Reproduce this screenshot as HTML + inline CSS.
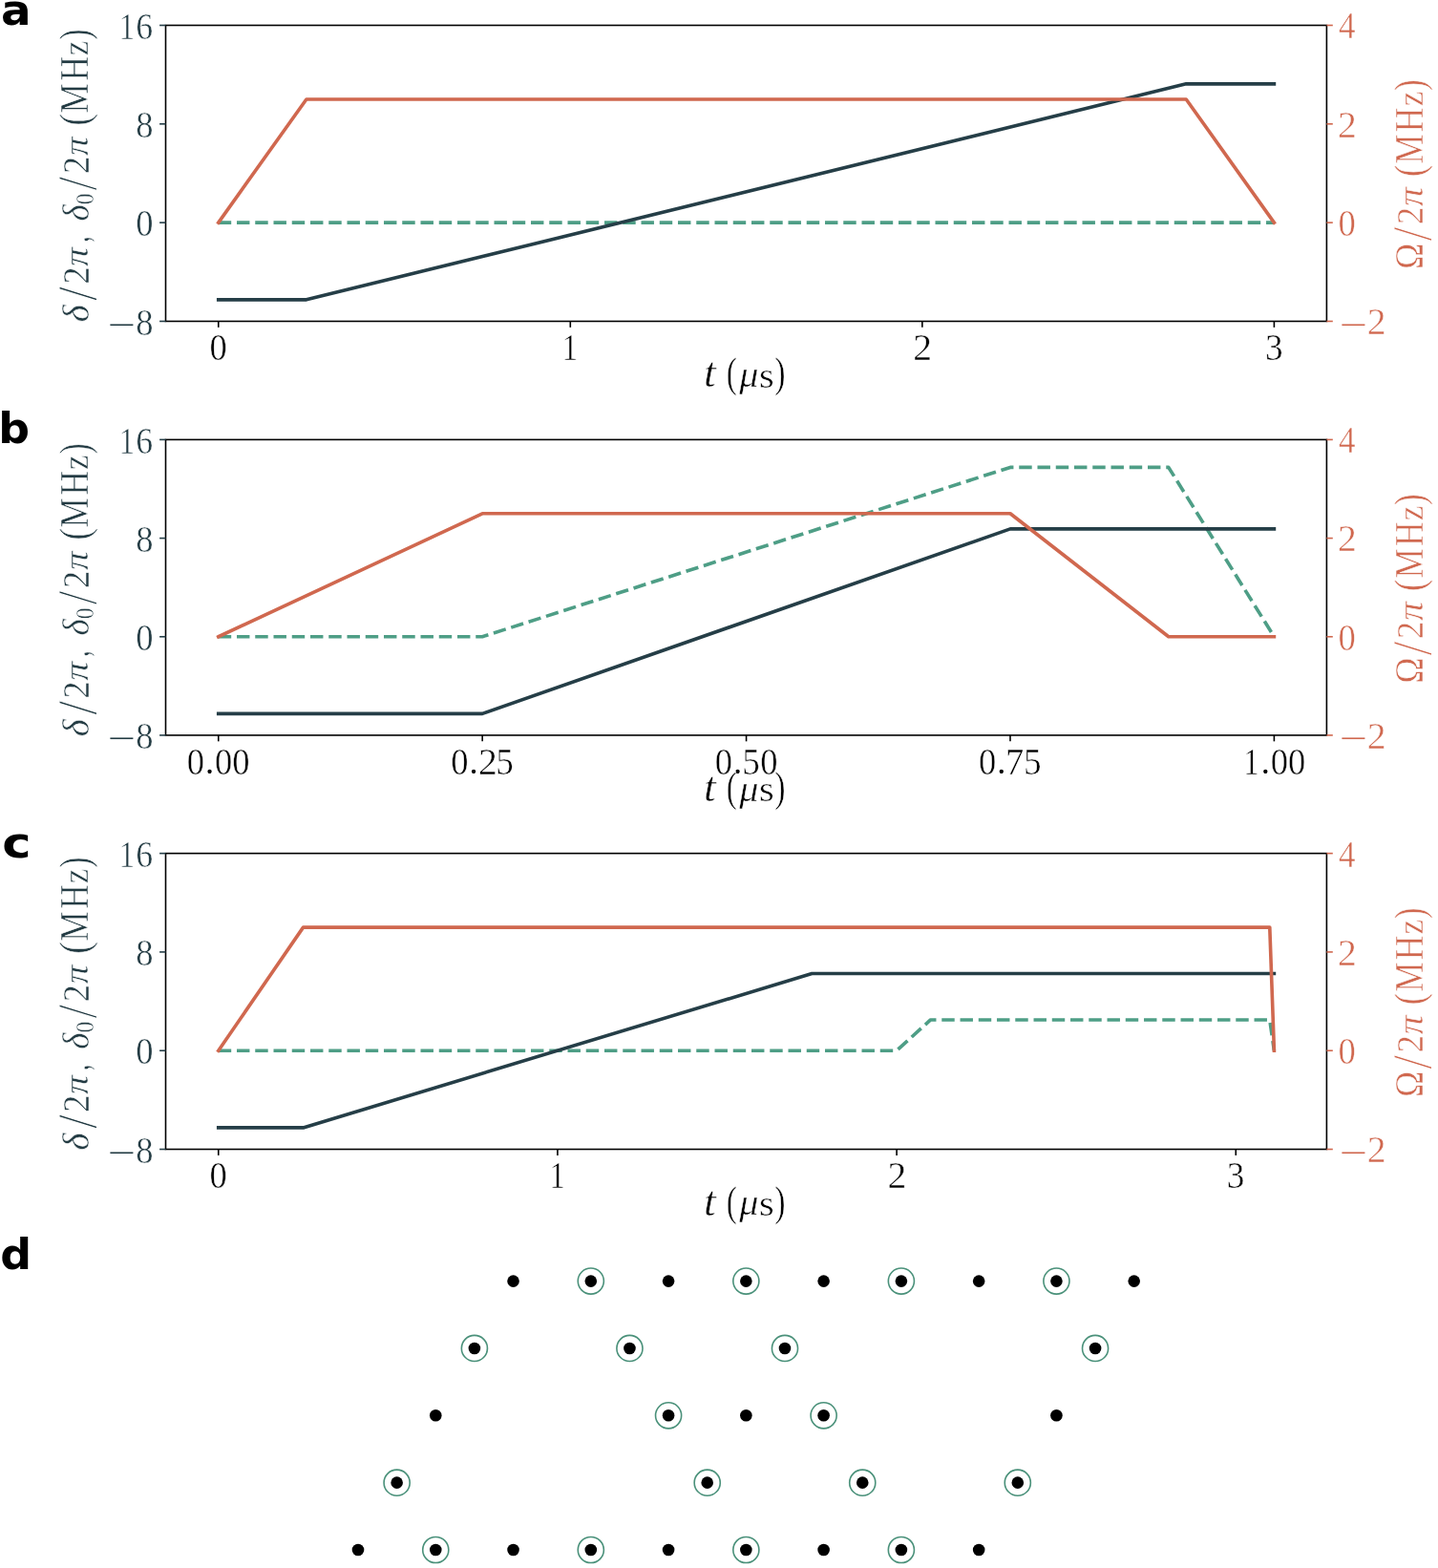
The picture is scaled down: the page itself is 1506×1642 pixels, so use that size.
<!DOCTYPE html>
<html><head><meta charset="utf-8"><title>Figure</title>
<style>html,body{margin:0;padding:0;background:#fff;overflow:hidden;}svg{display:block;}text{font-size:40px;}.r{font-family:"Liberation Serif",serif;}.i{font-family:"Liberation Serif",serif;font-style:italic;}.b{font-family:"DejaVu Sans",sans-serif;font-weight:bold;}</style>
</head><body>
<svg width="1506" height="1642" viewBox="0 0 1506 1642">
<rect x="0" y="0" width="1506" height="1642" fill="#fff"/>
<text class="b" transform="translate(0.988 26.276) scale(1.17 1.101)" fill="#000">a</text>
<text class="b" transform="translate(-1.849 464.174) scale(1.146 1.105)" fill="#000">b</text>
<text class="b" transform="translate(2.202 898.261) scale(1.279 1.128)" fill="#000">c</text>
<text class="b" transform="translate(0.341 1329.182) scale(1.146 1.092)" fill="#000">d</text>
<g>
<polyline points="228.75,233.133 1334.4,233.133" fill="none" stroke="#4e9e86" stroke-width="3.63" stroke-linejoin="round" stroke-linecap="butt" stroke-dasharray="13.44 5.81"/>
<polyline points="228.75,313.849 320.887,313.849 1242.263,87.844 1334.4,87.844" fill="none" stroke="#253e47" stroke-width="3.63" stroke-linejoin="round" stroke-linecap="square"/>
<polyline points="228.75,233.133 320.887,103.987 1242.263,103.987 1334.4,233.133" fill="none" stroke="#d0684f" stroke-width="3.63" stroke-linejoin="round" stroke-linecap="square"/>
<rect x="173.5" y="26.5" width="1215.9" height="309.95" fill="none" stroke="#000" stroke-width="1.6"/>
<line x1="167.1" y1="26.5" x2="173.5" y2="26.5" stroke="#253e47" stroke-width="1.6"/>
<text class="r" transform="translate(124.729 40.65) scale(0.817 1.005)" fill="#233b43" stroke="#fff" stroke-width="0.549">1</text><text class="r" transform="translate(142.311 40.65) scale(0.895 1.005)" fill="#233b43" stroke="#fff" stroke-width="0.526">6</text>
<line x1="167.1" y1="129.817" x2="173.5" y2="129.817" stroke="#253e47" stroke-width="1.6"/>
<text class="r" transform="translate(142.357 143.967) scale(0.914 1.005)" fill="#233b43" stroke="#fff" stroke-width="0.521">8</text>
<line x1="167.1" y1="233.133" x2="173.5" y2="233.133" stroke="#253e47" stroke-width="1.6"/>
<text class="r" transform="translate(142.357 247.283) scale(0.914 1.005)" fill="#233b43" stroke="#fff" stroke-width="0.521">0</text>
<line x1="167.1" y1="336.45" x2="173.5" y2="336.45" stroke="#253e47" stroke-width="1.6"/>
<text class="r" transform="translate(112.381 350.717) scale(1.289 0.803)" fill="#233b43">−</text><text class="r" transform="translate(142.357 350.6) scale(0.914 1.005)" fill="#233b43" stroke="#fff" stroke-width="0.521">8</text>
<line x1="1389.4" y1="26.5" x2="1395.8" y2="26.5" stroke="#d0684f" stroke-width="1.6"/>
<text class="r" transform="translate(1401.915 40.4) scale(0.877 1.005)" fill="#d0684f" stroke="#fff" stroke-width="0.532">4</text>
<line x1="1389.4" y1="129.817" x2="1395.8" y2="129.817" stroke="#d0684f" stroke-width="1.6"/>
<text class="r" transform="translate(1401.057 143.717) scale(0.992 1.005)" fill="#d0684f" stroke="#fff" stroke-width="0.501">2</text>
<line x1="1389.4" y1="233.133" x2="1395.8" y2="233.133" stroke="#d0684f" stroke-width="1.6"/>
<text class="r" transform="translate(1401.607 247.033) scale(0.914 1.005)" fill="#d0684f" stroke="#fff" stroke-width="0.521">0</text>
<line x1="1389.4" y1="336.45" x2="1395.8" y2="336.45" stroke="#d0684f" stroke-width="1.6"/>
<text class="r" transform="translate(1402.431 350.717) scale(1.289 0.803)" fill="#d0684f">−</text><text class="r" transform="translate(1431.857 350.35) scale(0.992 1.005)" fill="#d0684f" stroke="#fff" stroke-width="0.501">2</text>
<line x1="228.75" y1="336.45" x2="228.75" y2="342.85" stroke="#000" stroke-width="1.6"/>
<text class="r" transform="translate(219.607 377.35) scale(0.914 1.005)" fill="#000" stroke="#fff" stroke-width="0.521">0</text>
<line x1="597.3" y1="336.45" x2="597.3" y2="342.85" stroke="#000" stroke-width="1.6"/>
<text class="r" transform="translate(588.829 377.35) scale(0.817 1.005)" fill="#000" stroke="#fff" stroke-width="0.549">1</text>
<line x1="965.85" y1="336.45" x2="965.85" y2="342.85" stroke="#000" stroke-width="1.6"/>
<text class="r" transform="translate(956.157 377.35) scale(0.992 1.005)" fill="#000" stroke="#fff" stroke-width="0.501">2</text>
<line x1="1334.4" y1="336.45" x2="1334.4" y2="342.85" stroke="#000" stroke-width="1.6"/>
<text class="r" transform="translate(1324.916 377.35) scale(0.932 1.005)" fill="#000" stroke="#fff" stroke-width="0.516">3</text>
<g><text class="i" transform="translate(736.992 405.464) scale(1.142 1.117)" fill="#000" stroke="#fff" stroke-width="0.443">t</text> <text class="r" transform="translate(760.729 405.455) scale(0.837 1.097)" fill="#000" stroke="#fff" stroke-width="0.517">(</text><text class="i" transform="translate(774.239 405.268) scale(1.006 0.962)" fill="#000" stroke="#fff" stroke-width="0.508">μ</text><text class="r" transform="translate(795.044 405.528) scale(1.01 0.951)" fill="#000" stroke="#fff" stroke-width="0.51">s</text><text class="r" transform="translate(811.208 405.455) scale(0.847 1.097)" fill="#000" stroke="#fff" stroke-width="0.514">)</text></g>
<g transform="translate(92.7 336.8) rotate(-90)"><text class="i" transform="translate(-0.749 -0.098) scale(0.981 1.02)" fill="#233b43" stroke="#fff" stroke-width="0.5">δ</text><text class="r" transform="translate(21.9 8.532) scale(1.341 1.454)" fill="#233b43" stroke="#fff" stroke-width="0.716">/</text><text class="r" transform="translate(39.2 0) scale(0.91 0.989)" fill="#233b43" stroke="#fff" stroke-width="0.526">2</text><text class="i" transform="translate(57.886 -0.354) scale(0.998 0.907)" fill="#233b43" stroke="#fff" stroke-width="0.525">π</text><text class="r" transform="translate(83.054 0.593) scale(0.621 1.09)" fill="#233b43" stroke="#fff" stroke-width="0.584">,</text> <text class="i" transform="translate(105.316 -0.098) scale(0.925 1.02)" fill="#233b43" stroke="#fff" stroke-width="0.514">δ</text><text class="r" transform="translate(122.492 5.535) scale(0.596 0.678)" fill="#233b43" stroke="#fff" stroke-width="0.785">0</text><text class="r" transform="translate(137.4 8.532) scale(1.314 1.454)" fill="#233b43" stroke="#fff" stroke-width="0.723">/</text><text class="r" transform="translate(154.7 0) scale(0.91 0.989)" fill="#233b43" stroke="#fff" stroke-width="0.526">2</text><text class="i" transform="translate(173.789 -0.354) scale(0.984 0.907)" fill="#233b43" stroke="#fff" stroke-width="0.529">π</text> <text class="r" transform="translate(205.175 0.249) scale(0.925 1.086)" fill="#233b43" stroke="#fff" stroke-width="0.497">(</text><text class="r" transform="translate(218.284 -0.3) scale(0.881 1.035)" fill="#233b43" stroke="#fff" stroke-width="0.522">M</text><text class="r" transform="translate(252.285 -0.3) scale(0.881 1.035)" fill="#233b43" stroke="#fff" stroke-width="0.522">H</text><text class="r" transform="translate(278.661 -0.3) scale(0.874 0.937)" fill="#233b43" stroke="#fff" stroke-width="0.552">z</text><text class="r" transform="translate(295.333 0.249) scale(0.827 1.086)" fill="#233b43" stroke="#fff" stroke-width="0.523">)</text></g>
<g transform="translate(1490 280) rotate(-90)"><text class="r" transform="translate(-1.918 0) scale(0.926 1.046)" fill="#d0684f" stroke="#fff" stroke-width="0.507">Ω</text><text class="r" transform="translate(27.4 9.222) scale(1.341 1.48)" fill="#d0684f" stroke="#fff" stroke-width="0.709">/</text><text class="r" transform="translate(44.667 0) scale(0.929 0.978)" fill="#d0684f" stroke="#fff" stroke-width="0.524">2</text><text class="i" transform="translate(63.985 -0.06) scale(1.003 0.923)" fill="#d0684f" stroke="#fff" stroke-width="0.519">π</text> <text class="r" transform="translate(94.992 0.732) scale(0.915 1.1)" fill="#d0684f" stroke="#fff" stroke-width="0.496">(</text><text class="r" transform="translate(108.288 0) scale(0.878 1.035)" fill="#d0684f" stroke="#fff" stroke-width="0.523">M</text><text class="r" transform="translate(141.785 0) scale(0.881 1.035)" fill="#d0684f" stroke="#fff" stroke-width="0.522">H</text><text class="r" transform="translate(168.755 0) scale(0.88 0.926)" fill="#d0684f" stroke="#fff" stroke-width="0.554">z</text><text class="r" transform="translate(185.196 0.732) scale(0.857 1.1)" fill="#d0684f" stroke="#fff" stroke-width="0.511">)</text></g>
</g>
<g>
<polyline points="228.75,666.767 505.163,666.767 1057.988,489.42 1223.835,489.42 1334.4,666.767" fill="none" stroke="#4e9e86" stroke-width="3.63" stroke-linejoin="round" stroke-linecap="butt" stroke-dasharray="13.44 5.81"/>
<polyline points="228.75,747.379 505.163,747.379 1057.988,553.91 1334.4,553.91" fill="none" stroke="#253e47" stroke-width="3.63" stroke-linejoin="round" stroke-linecap="square"/>
<polyline points="228.75,666.767 505.163,537.788 1057.988,537.788 1223.835,666.767 1334.4,666.767" fill="none" stroke="#d0684f" stroke-width="3.63" stroke-linejoin="round" stroke-linecap="square"/>
<rect x="173.5" y="460.4" width="1215.9" height="309.55" fill="none" stroke="#000" stroke-width="1.6"/>
<line x1="167.1" y1="460.4" x2="173.5" y2="460.4" stroke="#253e47" stroke-width="1.6"/>
<text class="r" transform="translate(124.729 474.55) scale(0.817 1.005)" fill="#233b43" stroke="#fff" stroke-width="0.549">1</text><text class="r" transform="translate(142.311 474.55) scale(0.895 1.005)" fill="#233b43" stroke="#fff" stroke-width="0.526">6</text>
<line x1="167.1" y1="563.583" x2="173.5" y2="563.583" stroke="#253e47" stroke-width="1.6"/>
<text class="r" transform="translate(142.357 577.733) scale(0.914 1.005)" fill="#233b43" stroke="#fff" stroke-width="0.521">8</text>
<line x1="167.1" y1="666.767" x2="173.5" y2="666.767" stroke="#253e47" stroke-width="1.6"/>
<text class="r" transform="translate(142.357 680.917) scale(0.914 1.005)" fill="#233b43" stroke="#fff" stroke-width="0.521">0</text>
<line x1="167.1" y1="769.95" x2="173.5" y2="769.95" stroke="#253e47" stroke-width="1.6"/>
<text class="r" transform="translate(112.381 784.217) scale(1.289 0.803)" fill="#233b43">−</text><text class="r" transform="translate(142.357 784.1) scale(0.914 1.005)" fill="#233b43" stroke="#fff" stroke-width="0.521">8</text>
<line x1="1389.4" y1="460.4" x2="1395.8" y2="460.4" stroke="#d0684f" stroke-width="1.6"/>
<text class="r" transform="translate(1401.915 474.3) scale(0.877 1.005)" fill="#d0684f" stroke="#fff" stroke-width="0.532">4</text>
<line x1="1389.4" y1="563.583" x2="1395.8" y2="563.583" stroke="#d0684f" stroke-width="1.6"/>
<text class="r" transform="translate(1401.057 577.483) scale(0.992 1.005)" fill="#d0684f" stroke="#fff" stroke-width="0.501">2</text>
<line x1="1389.4" y1="666.767" x2="1395.8" y2="666.767" stroke="#d0684f" stroke-width="1.6"/>
<text class="r" transform="translate(1401.607 680.667) scale(0.914 1.005)" fill="#d0684f" stroke="#fff" stroke-width="0.521">0</text>
<line x1="1389.4" y1="769.95" x2="1395.8" y2="769.95" stroke="#d0684f" stroke-width="1.6"/>
<text class="r" transform="translate(1402.431 784.217) scale(1.289 0.803)" fill="#d0684f">−</text><text class="r" transform="translate(1431.857 783.85) scale(0.992 1.005)" fill="#d0684f" stroke="#fff" stroke-width="0.501">2</text>
<line x1="228.75" y1="769.95" x2="228.75" y2="776.35" stroke="#000" stroke-width="1.6"/>
<text class="r" transform="translate(195.857 810.85) scale(0.914 1.005)" fill="#000" stroke="#fff" stroke-width="0.521">0</text><text class="r" transform="translate(215.051 810.347) scale(0.91 0.889)" fill="#000">.</text><text class="r" transform="translate(225.057 810.85) scale(0.914 1.005)" fill="#000" stroke="#fff" stroke-width="0.521">0</text><text class="r" transform="translate(243.357 810.85) scale(0.914 1.005)" fill="#000" stroke="#fff" stroke-width="0.521">0</text>
<line x1="505.163" y1="769.95" x2="505.163" y2="776.35" stroke="#000" stroke-width="1.6"/>
<text class="r" transform="translate(472.27 810.85) scale(0.914 1.005)" fill="#000" stroke="#fff" stroke-width="0.521">0</text><text class="r" transform="translate(491.464 810.347) scale(0.91 0.889)" fill="#000">.</text><text class="r" transform="translate(500.92 810.85) scale(0.992 1.005)" fill="#000" stroke="#fff" stroke-width="0.501">2</text><text class="r" transform="translate(519.249 810.85) scale(0.931 1.005)" fill="#000" stroke="#fff" stroke-width="0.517">5</text>
<line x1="781.575" y1="769.95" x2="781.575" y2="776.35" stroke="#000" stroke-width="1.6"/>
<text class="r" transform="translate(748.682 810.85) scale(0.914 1.005)" fill="#000" stroke="#fff" stroke-width="0.521">0</text><text class="r" transform="translate(767.876 810.347) scale(0.91 0.889)" fill="#000">.</text><text class="r" transform="translate(777.361 810.85) scale(0.931 1.005)" fill="#000" stroke="#fff" stroke-width="0.517">5</text><text class="r" transform="translate(796.182 810.85) scale(0.914 1.005)" fill="#000" stroke="#fff" stroke-width="0.521">0</text>
<line x1="1057.988" y1="769.95" x2="1057.988" y2="776.35" stroke="#000" stroke-width="1.6"/>
<text class="r" transform="translate(1025.095 810.85) scale(0.914 1.005)" fill="#000" stroke="#fff" stroke-width="0.521">0</text><text class="r" transform="translate(1044.289 810.347) scale(0.91 0.889)" fill="#000">.</text><text class="r" transform="translate(1053.1 810.85) scale(0.962 1.005)" fill="#000" stroke="#fff" stroke-width="0.508">7</text><text class="r" transform="translate(1072.074 810.85) scale(0.931 1.005)" fill="#000" stroke="#fff" stroke-width="0.517">5</text>
<line x1="1334.4" y1="769.95" x2="1334.4" y2="776.35" stroke="#000" stroke-width="1.6"/>
<text class="r" transform="translate(1302.179 810.85) scale(0.817 1.005)" fill="#000" stroke="#fff" stroke-width="0.549">1</text><text class="r" transform="translate(1320.701 810.347) scale(0.91 0.889)" fill="#000">.</text><text class="r" transform="translate(1330.707 810.85) scale(0.914 1.005)" fill="#000" stroke="#fff" stroke-width="0.521">0</text><text class="r" transform="translate(1349.007 810.85) scale(0.914 1.005)" fill="#000" stroke="#fff" stroke-width="0.521">0</text>
<g><text class="i" transform="translate(736.992 838.964) scale(1.142 1.117)" fill="#000" stroke="#fff" stroke-width="0.443">t</text> <text class="r" transform="translate(760.729 838.955) scale(0.837 1.097)" fill="#000" stroke="#fff" stroke-width="0.517">(</text><text class="i" transform="translate(774.239 838.768) scale(1.006 0.962)" fill="#000" stroke="#fff" stroke-width="0.508">μ</text><text class="r" transform="translate(795.044 839.028) scale(1.01 0.951)" fill="#000" stroke="#fff" stroke-width="0.51">s</text><text class="r" transform="translate(811.208 838.955) scale(0.847 1.097)" fill="#000" stroke="#fff" stroke-width="0.514">)</text></g>
<g transform="translate(92.7 770.7) rotate(-90)"><text class="i" transform="translate(-0.749 -0.098) scale(0.981 1.02)" fill="#233b43" stroke="#fff" stroke-width="0.5">δ</text><text class="r" transform="translate(21.9 8.532) scale(1.341 1.454)" fill="#233b43" stroke="#fff" stroke-width="0.716">/</text><text class="r" transform="translate(39.2 0) scale(0.91 0.989)" fill="#233b43" stroke="#fff" stroke-width="0.526">2</text><text class="i" transform="translate(57.886 -0.354) scale(0.998 0.907)" fill="#233b43" stroke="#fff" stroke-width="0.525">π</text><text class="r" transform="translate(83.054 0.593) scale(0.621 1.09)" fill="#233b43" stroke="#fff" stroke-width="0.584">,</text> <text class="i" transform="translate(105.316 -0.098) scale(0.925 1.02)" fill="#233b43" stroke="#fff" stroke-width="0.514">δ</text><text class="r" transform="translate(122.492 5.535) scale(0.596 0.678)" fill="#233b43" stroke="#fff" stroke-width="0.785">0</text><text class="r" transform="translate(137.4 8.532) scale(1.314 1.454)" fill="#233b43" stroke="#fff" stroke-width="0.723">/</text><text class="r" transform="translate(154.7 0) scale(0.91 0.989)" fill="#233b43" stroke="#fff" stroke-width="0.526">2</text><text class="i" transform="translate(173.789 -0.354) scale(0.984 0.907)" fill="#233b43" stroke="#fff" stroke-width="0.529">π</text> <text class="r" transform="translate(205.175 0.249) scale(0.925 1.086)" fill="#233b43" stroke="#fff" stroke-width="0.497">(</text><text class="r" transform="translate(218.284 -0.3) scale(0.881 1.035)" fill="#233b43" stroke="#fff" stroke-width="0.522">M</text><text class="r" transform="translate(252.285 -0.3) scale(0.881 1.035)" fill="#233b43" stroke="#fff" stroke-width="0.522">H</text><text class="r" transform="translate(278.661 -0.3) scale(0.874 0.937)" fill="#233b43" stroke="#fff" stroke-width="0.552">z</text><text class="r" transform="translate(295.333 0.249) scale(0.827 1.086)" fill="#233b43" stroke="#fff" stroke-width="0.523">)</text></g>
<g transform="translate(1490 713.9) rotate(-90)"><text class="r" transform="translate(-1.918 0) scale(0.926 1.046)" fill="#d0684f" stroke="#fff" stroke-width="0.507">Ω</text><text class="r" transform="translate(27.4 9.222) scale(1.341 1.48)" fill="#d0684f" stroke="#fff" stroke-width="0.709">/</text><text class="r" transform="translate(44.667 0) scale(0.929 0.978)" fill="#d0684f" stroke="#fff" stroke-width="0.524">2</text><text class="i" transform="translate(63.985 -0.06) scale(1.003 0.923)" fill="#d0684f" stroke="#fff" stroke-width="0.519">π</text> <text class="r" transform="translate(94.992 0.732) scale(0.915 1.1)" fill="#d0684f" stroke="#fff" stroke-width="0.496">(</text><text class="r" transform="translate(108.288 0) scale(0.878 1.035)" fill="#d0684f" stroke="#fff" stroke-width="0.523">M</text><text class="r" transform="translate(141.785 0) scale(0.881 1.035)" fill="#d0684f" stroke="#fff" stroke-width="0.522">H</text><text class="r" transform="translate(168.755 0) scale(0.88 0.926)" fill="#d0684f" stroke="#fff" stroke-width="0.554">z</text><text class="r" transform="translate(185.196 0.732) scale(0.857 1.1)" fill="#d0684f" stroke="#fff" stroke-width="0.511">)</text></g>
</g>
<g>
<polyline points="228.75,1100.217 939.094,1100.217 974.611,1067.941 1329.783,1067.941 1334.4,1100.217" fill="none" stroke="#4e9e86" stroke-width="3.63" stroke-linejoin="round" stroke-linecap="butt" stroke-dasharray="13.44 5.81"/>
<polyline points="228.75,1180.907 317.543,1180.907 850.301,1019.527 1334.4,1019.527" fill="none" stroke="#253e47" stroke-width="3.63" stroke-linejoin="round" stroke-linecap="square"/>
<polyline points="228.75,1100.217 317.543,971.112 1329.783,971.112 1334.4,1100.217" fill="none" stroke="#d0684f" stroke-width="3.63" stroke-linejoin="round" stroke-linecap="square"/>
<rect x="173.5" y="893.65" width="1215.9" height="309.85" fill="none" stroke="#000" stroke-width="1.6"/>
<line x1="167.1" y1="893.65" x2="173.5" y2="893.65" stroke="#253e47" stroke-width="1.6"/>
<text class="r" transform="translate(124.729 907.8) scale(0.817 1.005)" fill="#233b43" stroke="#fff" stroke-width="0.549">1</text><text class="r" transform="translate(142.311 907.8) scale(0.895 1.005)" fill="#233b43" stroke="#fff" stroke-width="0.526">6</text>
<line x1="167.1" y1="996.933" x2="173.5" y2="996.933" stroke="#253e47" stroke-width="1.6"/>
<text class="r" transform="translate(142.357 1011.083) scale(0.914 1.005)" fill="#233b43" stroke="#fff" stroke-width="0.521">8</text>
<line x1="167.1" y1="1100.217" x2="173.5" y2="1100.217" stroke="#253e47" stroke-width="1.6"/>
<text class="r" transform="translate(142.357 1114.367) scale(0.914 1.005)" fill="#233b43" stroke="#fff" stroke-width="0.521">0</text>
<line x1="167.1" y1="1203.5" x2="173.5" y2="1203.5" stroke="#253e47" stroke-width="1.6"/>
<text class="r" transform="translate(112.381 1217.767) scale(1.289 0.803)" fill="#233b43">−</text><text class="r" transform="translate(142.357 1217.65) scale(0.914 1.005)" fill="#233b43" stroke="#fff" stroke-width="0.521">8</text>
<line x1="1389.4" y1="893.65" x2="1395.8" y2="893.65" stroke="#d0684f" stroke-width="1.6"/>
<text class="r" transform="translate(1401.915 907.55) scale(0.877 1.005)" fill="#d0684f" stroke="#fff" stroke-width="0.532">4</text>
<line x1="1389.4" y1="996.933" x2="1395.8" y2="996.933" stroke="#d0684f" stroke-width="1.6"/>
<text class="r" transform="translate(1401.057 1010.833) scale(0.992 1.005)" fill="#d0684f" stroke="#fff" stroke-width="0.501">2</text>
<line x1="1389.4" y1="1100.217" x2="1395.8" y2="1100.217" stroke="#d0684f" stroke-width="1.6"/>
<text class="r" transform="translate(1401.607 1114.117) scale(0.914 1.005)" fill="#d0684f" stroke="#fff" stroke-width="0.521">0</text>
<line x1="1389.4" y1="1203.5" x2="1395.8" y2="1203.5" stroke="#d0684f" stroke-width="1.6"/>
<text class="r" transform="translate(1402.431 1217.767) scale(1.289 0.803)" fill="#d0684f">−</text><text class="r" transform="translate(1431.857 1217.4) scale(0.992 1.005)" fill="#d0684f" stroke="#fff" stroke-width="0.501">2</text>
<line x1="228.75" y1="1203.5" x2="228.75" y2="1209.9" stroke="#000" stroke-width="1.6"/>
<text class="r" transform="translate(219.607 1244.4) scale(0.914 1.005)" fill="#000" stroke="#fff" stroke-width="0.521">0</text>
<line x1="583.922" y1="1203.5" x2="583.922" y2="1209.9" stroke="#000" stroke-width="1.6"/>
<text class="r" transform="translate(575.451 1244.4) scale(0.817 1.005)" fill="#000" stroke="#fff" stroke-width="0.549">1</text>
<line x1="939.094" y1="1203.5" x2="939.094" y2="1209.9" stroke="#000" stroke-width="1.6"/>
<text class="r" transform="translate(929.401 1244.4) scale(0.992 1.005)" fill="#000" stroke="#fff" stroke-width="0.501">2</text>
<line x1="1294.266" y1="1203.5" x2="1294.266" y2="1209.9" stroke="#000" stroke-width="1.6"/>
<text class="r" transform="translate(1284.782 1244.4) scale(0.932 1.005)" fill="#000" stroke="#fff" stroke-width="0.516">3</text>
<g><text class="i" transform="translate(736.992 1272.514) scale(1.142 1.117)" fill="#000" stroke="#fff" stroke-width="0.443">t</text> <text class="r" transform="translate(760.729 1272.505) scale(0.837 1.097)" fill="#000" stroke="#fff" stroke-width="0.517">(</text><text class="i" transform="translate(774.239 1272.318) scale(1.006 0.962)" fill="#000" stroke="#fff" stroke-width="0.508">μ</text><text class="r" transform="translate(795.044 1272.578) scale(1.01 0.951)" fill="#000" stroke="#fff" stroke-width="0.51">s</text><text class="r" transform="translate(811.208 1272.505) scale(0.847 1.097)" fill="#000" stroke="#fff" stroke-width="0.514">)</text></g>
<g transform="translate(92.7 1203.95) rotate(-90)"><text class="i" transform="translate(-0.749 -0.098) scale(0.981 1.02)" fill="#233b43" stroke="#fff" stroke-width="0.5">δ</text><text class="r" transform="translate(21.9 8.532) scale(1.341 1.454)" fill="#233b43" stroke="#fff" stroke-width="0.716">/</text><text class="r" transform="translate(39.2 0) scale(0.91 0.989)" fill="#233b43" stroke="#fff" stroke-width="0.526">2</text><text class="i" transform="translate(57.886 -0.354) scale(0.998 0.907)" fill="#233b43" stroke="#fff" stroke-width="0.525">π</text><text class="r" transform="translate(83.054 0.593) scale(0.621 1.09)" fill="#233b43" stroke="#fff" stroke-width="0.584">,</text> <text class="i" transform="translate(105.316 -0.098) scale(0.925 1.02)" fill="#233b43" stroke="#fff" stroke-width="0.514">δ</text><text class="r" transform="translate(122.492 5.535) scale(0.596 0.678)" fill="#233b43" stroke="#fff" stroke-width="0.785">0</text><text class="r" transform="translate(137.4 8.532) scale(1.314 1.454)" fill="#233b43" stroke="#fff" stroke-width="0.723">/</text><text class="r" transform="translate(154.7 0) scale(0.91 0.989)" fill="#233b43" stroke="#fff" stroke-width="0.526">2</text><text class="i" transform="translate(173.789 -0.354) scale(0.984 0.907)" fill="#233b43" stroke="#fff" stroke-width="0.529">π</text> <text class="r" transform="translate(205.175 0.249) scale(0.925 1.086)" fill="#233b43" stroke="#fff" stroke-width="0.497">(</text><text class="r" transform="translate(218.284 -0.3) scale(0.881 1.035)" fill="#233b43" stroke="#fff" stroke-width="0.522">M</text><text class="r" transform="translate(252.285 -0.3) scale(0.881 1.035)" fill="#233b43" stroke="#fff" stroke-width="0.522">H</text><text class="r" transform="translate(278.661 -0.3) scale(0.874 0.937)" fill="#233b43" stroke="#fff" stroke-width="0.552">z</text><text class="r" transform="translate(295.333 0.249) scale(0.827 1.086)" fill="#233b43" stroke="#fff" stroke-width="0.523">)</text></g>
<g transform="translate(1490 1147.15) rotate(-90)"><text class="r" transform="translate(-1.918 0) scale(0.926 1.046)" fill="#d0684f" stroke="#fff" stroke-width="0.507">Ω</text><text class="r" transform="translate(27.4 9.222) scale(1.341 1.48)" fill="#d0684f" stroke="#fff" stroke-width="0.709">/</text><text class="r" transform="translate(44.667 0) scale(0.929 0.978)" fill="#d0684f" stroke="#fff" stroke-width="0.524">2</text><text class="i" transform="translate(63.985 -0.06) scale(1.003 0.923)" fill="#d0684f" stroke="#fff" stroke-width="0.519">π</text> <text class="r" transform="translate(94.992 0.732) scale(0.915 1.1)" fill="#d0684f" stroke="#fff" stroke-width="0.496">(</text><text class="r" transform="translate(108.288 0) scale(0.878 1.035)" fill="#d0684f" stroke="#fff" stroke-width="0.523">M</text><text class="r" transform="translate(141.785 0) scale(0.881 1.035)" fill="#d0684f" stroke="#fff" stroke-width="0.522">H</text><text class="r" transform="translate(168.755 0) scale(0.88 0.926)" fill="#d0684f" stroke="#fff" stroke-width="0.554">z</text><text class="r" transform="translate(185.196 0.732) scale(0.857 1.1)" fill="#d0684f" stroke="#fff" stroke-width="0.511">)</text></g>
</g>
<circle cx="537.54" cy="1341.6" r="6.3" fill="#000"/>
<circle cx="618.81" cy="1341.6" r="13.55" fill="none" stroke="#4a917a" stroke-width="1.6"/>
<circle cx="618.81" cy="1341.6" r="6.3" fill="#000"/>
<circle cx="700.08" cy="1341.6" r="6.3" fill="#000"/>
<circle cx="781.35" cy="1341.6" r="13.55" fill="none" stroke="#4a917a" stroke-width="1.6"/>
<circle cx="781.35" cy="1341.6" r="6.3" fill="#000"/>
<circle cx="862.62" cy="1341.6" r="6.3" fill="#000"/>
<circle cx="943.89" cy="1341.6" r="13.55" fill="none" stroke="#4a917a" stroke-width="1.6"/>
<circle cx="943.89" cy="1341.6" r="6.3" fill="#000"/>
<circle cx="1025.16" cy="1341.6" r="6.3" fill="#000"/>
<circle cx="1106.43" cy="1341.6" r="13.55" fill="none" stroke="#4a917a" stroke-width="1.6"/>
<circle cx="1106.43" cy="1341.6" r="6.3" fill="#000"/>
<circle cx="1187.7" cy="1341.6" r="6.3" fill="#000"/>
<circle cx="496.905" cy="1411.95" r="13.55" fill="none" stroke="#4a917a" stroke-width="1.6"/>
<circle cx="496.905" cy="1411.95" r="6.3" fill="#000"/>
<circle cx="659.445" cy="1411.95" r="13.55" fill="none" stroke="#4a917a" stroke-width="1.6"/>
<circle cx="659.445" cy="1411.95" r="6.3" fill="#000"/>
<circle cx="821.985" cy="1411.95" r="13.55" fill="none" stroke="#4a917a" stroke-width="1.6"/>
<circle cx="821.985" cy="1411.95" r="6.3" fill="#000"/>
<circle cx="1147.065" cy="1411.95" r="13.55" fill="none" stroke="#4a917a" stroke-width="1.6"/>
<circle cx="1147.065" cy="1411.95" r="6.3" fill="#000"/>
<circle cx="456.27" cy="1482.3" r="6.3" fill="#000"/>
<circle cx="700.08" cy="1482.3" r="13.55" fill="none" stroke="#4a917a" stroke-width="1.6"/>
<circle cx="700.08" cy="1482.3" r="6.3" fill="#000"/>
<circle cx="781.35" cy="1482.3" r="6.3" fill="#000"/>
<circle cx="862.62" cy="1482.3" r="13.55" fill="none" stroke="#4a917a" stroke-width="1.6"/>
<circle cx="862.62" cy="1482.3" r="6.3" fill="#000"/>
<circle cx="1106.43" cy="1482.3" r="6.3" fill="#000"/>
<circle cx="415.635" cy="1552.65" r="13.55" fill="none" stroke="#4a917a" stroke-width="1.6"/>
<circle cx="415.635" cy="1552.65" r="6.3" fill="#000"/>
<circle cx="740.715" cy="1552.65" r="13.55" fill="none" stroke="#4a917a" stroke-width="1.6"/>
<circle cx="740.715" cy="1552.65" r="6.3" fill="#000"/>
<circle cx="903.255" cy="1552.65" r="13.55" fill="none" stroke="#4a917a" stroke-width="1.6"/>
<circle cx="903.255" cy="1552.65" r="6.3" fill="#000"/>
<circle cx="1065.795" cy="1552.65" r="13.55" fill="none" stroke="#4a917a" stroke-width="1.6"/>
<circle cx="1065.795" cy="1552.65" r="6.3" fill="#000"/>
<circle cx="375" cy="1623" r="6.3" fill="#000"/>
<circle cx="456.27" cy="1623" r="13.55" fill="none" stroke="#4a917a" stroke-width="1.6"/>
<circle cx="456.27" cy="1623" r="6.3" fill="#000"/>
<circle cx="537.54" cy="1623" r="6.3" fill="#000"/>
<circle cx="618.81" cy="1623" r="13.55" fill="none" stroke="#4a917a" stroke-width="1.6"/>
<circle cx="618.81" cy="1623" r="6.3" fill="#000"/>
<circle cx="700.08" cy="1623" r="6.3" fill="#000"/>
<circle cx="781.35" cy="1623" r="13.55" fill="none" stroke="#4a917a" stroke-width="1.6"/>
<circle cx="781.35" cy="1623" r="6.3" fill="#000"/>
<circle cx="862.62" cy="1623" r="6.3" fill="#000"/>
<circle cx="943.89" cy="1623" r="13.55" fill="none" stroke="#4a917a" stroke-width="1.6"/>
<circle cx="943.89" cy="1623" r="6.3" fill="#000"/>
<circle cx="1025.16" cy="1623" r="6.3" fill="#000"/>
</svg>
</body></html>
